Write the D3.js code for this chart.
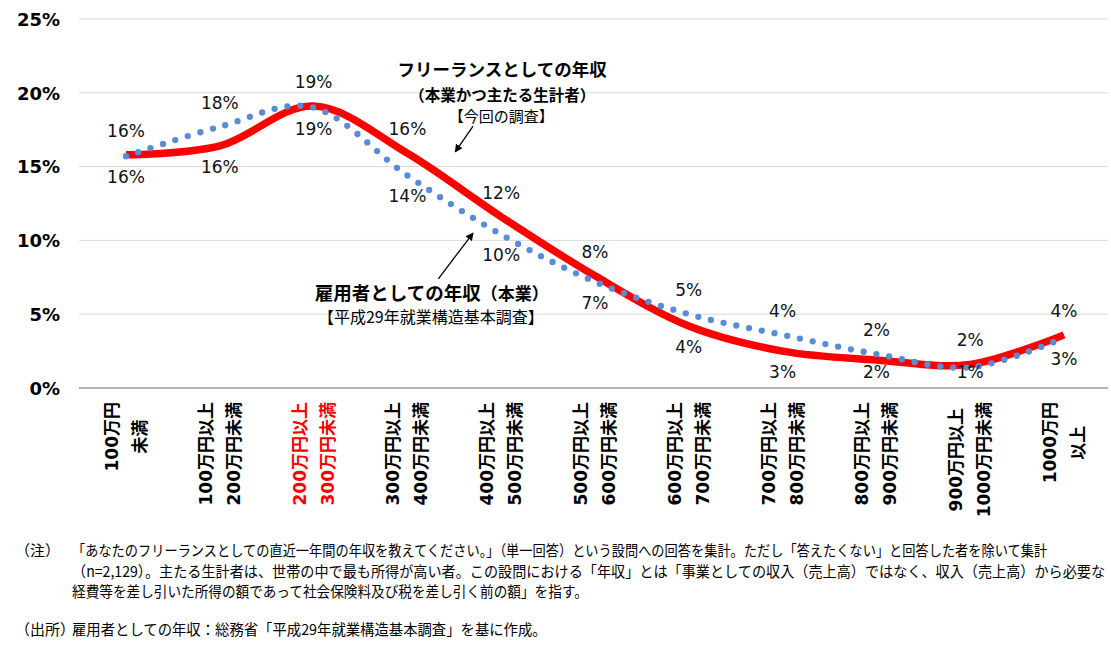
<!DOCTYPE html>
<html>
<head>
<meta charset="utf-8">
<script src="https://cdn.jsdelivr.net/npm/d3@7"></script>
<style>
  html, body { margin: 0; padding: 0; background: #fff; }
  svg { display: block; }
</style>
</head>
<body>
<svg id="chart" width="1111" height="652"></svg>
<script>
// ---------------- data ----------------
const categories = ["100万円未満","100-200万円","200-300万円","300-400万円","400-500万円","500-600万円","600-700万円","700-800万円","800-900万円","900-1000万円","1000万円以上"];
const tickLabels = [
  ["100万円","未満"],
  ["100万円以上","200万円未満"],
  ["200万円以上","300万円未満"],
  ["300万円以上","400万円未満"],
  ["400万円以上","500万円未満"],
  ["500万円以上","600万円未満"],
  ["600万円以上","700万円未満"],
  ["700万円以上","800万円未満"],
  ["800万円以上","900万円未満"],
  ["900万円以上","1000万円未満"],
  ["1000万円","以上"]
];
const highlightIndex = 2;
// 雇用者としての年収（本業） — red solid
const employeeValues = [15.8, 16.4, 19.1, 15.9, 11.6, 7.6, 4.2, 2.5, 1.9, 1.6, 3.6];
// フリーランスとしての年収 — blue dotted
const freelanceValues = [15.7, 17.7, 19.0, 14.4, 10.4, 7.2, 5.0, 3.6, 2.3, 1.4, 3.4];
const yTicks = [0, 5, 10, 15, 20, 25];

const notes = [
  {label: "（注）", lines: [
    "「あなたのフリーランスとしての直近一年間の年収を教えてください。」（単一回答）という設問への回答を集計。ただし「答えたくない」と回答した者を除いて集計",
    "（n=2,129）。主たる生計者は、世帯の中で最も所得が高い者。この設問における「年収」とは「事業としての収入（売上高）ではなく、収入（売上高）から必要な",
    "経費等を差し引いた所得の額であって社会保険料及び税を差し引く前の額」を指す。"
  ]},
  {label: "（出所）", lines: [
    "雇用者としての年収：総務省「平成29年就業構造基本調査」を基に作成。"
  ]}
];

// ---------------- layout ----------------
const svg = d3.select("#chart");
const plotLeft = 79, plotRight = 1108, plotTop = 19, plotBottom = 388;

const x = d3.scalePoint().domain(categories).range([126, 1064]);
const y = d3.scaleLinear().domain([0, 25]).range([plotBottom, plotTop]);
const step = x.step();
const xi = i => x(categories[0]) + i * step; // fractional category position for annotations

const latin = "'DejaVu Sans', 'Noto Sans CJK JP', sans-serif";
const cjk = "'Noto Sans CJK JP', sans-serif";

// gridlines
svg.append("g")
  .selectAll("line")
  .data(yTicks.filter(d => d > 0))
  .join("line")
  .attr("x1", plotLeft).attr("x2", plotRight)
  .attr("y1", d => y(d)).attr("y2", d => y(d))
  .attr("stroke", "#D9D9D9").attr("stroke-width", 1);

// y axis labels
const yAxis = d3.axisLeft(y).tickValues(yTicks).tickSize(0).tickPadding(0).tickFormat(d => d + "%");
svg.append("g")
  .attr("transform", `translate(60,0)`)
  .call(yAxis)
  .call(g => g.select(".domain").remove())
  .call(g => g.selectAll("text")
    .attr("font-family", latin).attr("font-weight", "bold")
    .attr("font-size", 18).attr("fill", "#000").attr("dy", "0.35em"));

// x axis line
svg.append("line")
  .attr("x1", plotLeft).attr("x2", plotRight)
  .attr("y1", y(0)).attr("y2", y(0))
  .attr("stroke", "#9A9A9A").attr("stroke-width", 1.5);

// x tick labels (rotated)
const xLabG = svg.append("g");
tickLabels.forEach((lines, i) => {
  const g = xLabG.append("g")
    .attr("transform", `translate(${x(categories[i])},402) rotate(-90)`);
  const texts = lines.map((t, k) => g.append("text")
    .attr("font-family", latin).attr("font-weight", "bold").attr("font-size", 17)
    .attr("fill", i === highlightIndex ? "#FF0000" : "#000")
    .attr("text-anchor", "middle").attr("dominant-baseline", "central")
    .attr("y", (k - (lines.length - 1) / 2) * 28)
    .text(t));
  const maxLen = d3.max(texts, t => t.node().getComputedTextLength());
  texts.forEach(t => t.attr("x", -maxLen / 2));
});

// lines
const curve = d3.curveCardinal.tension(0);
const lineGen = d3.line()
  .x((d, i) => x(categories[i]))
  .y(d => y(d))
  .curve(curve);

svg.append("path")
  .datum(employeeValues)
  .attr("d", lineGen)
  .attr("fill", "none")
  .attr("stroke", "#FF0000")
  .attr("stroke-width", 7.5)
  .attr("stroke-linecap", "butt")
  .attr("stroke-linejoin", "round");

svg.append("path")
  .datum(freelanceValues)
  .attr("d", lineGen)
  .attr("fill", "none")
  .attr("stroke", "#5A8CD6")
  .attr("stroke-width", 6.3)
  .attr("stroke-linecap", "round")
  .attr("stroke-dasharray", "0 13");

// data labels
const labelG = svg.append("g")
  .attr("font-family", latin).attr("font-size", 17).attr("fill", "#111")
  .attr("text-anchor", "middle");
categories.forEach((c, i) => {
  const e = employeeValues[i], f = freelanceValues[i];
  const hi = Math.max(e, f), lo = Math.min(e, f);
  labelG.append("text")
    .attr("x", x(c)).attr("y", y(hi) - 24).attr("dy", "0.35em")
    .text(Math.round(hi) + "%");
  labelG.append("text")
    .attr("x", x(c)).attr("y", Math.min(y(lo) + 21, 372)).attr("dy", "0.35em")
    .text(Math.round(lo) + "%");
});

// annotations
const ann = svg.append("g").attr("font-family", cjk).attr("fill", "#000").attr("text-anchor", "middle");
ann.append("text").attr("x", xi(4.01)).attr("y", y(21.55)).attr("dy", "0.35em")
  .attr("font-weight", "bold").attr("font-size", 17.5).text("フリーランスとしての年収");
ann.append("text").attr("x", xi(4.01)).attr("y", y(19.8)).attr("dy", "0.35em")
  .attr("font-weight", "bold").attr("font-size", 15.5).text("（本業かつ主たる生計者）");
ann.append("text").attr("x", xi(4.0)).attr("y", y(18.35)).attr("dy", "0.35em")
  .attr("font-size", 15).text("【今回の調査】");

const empTitle = ann.append("text").attr("x", xi(3.26)).attr("y", y(6.4)).attr("dy", "0.35em")
  .attr("font-weight", "bold").attr("font-size", 18.5);
empTitle.append("tspan").text("雇用者としての年収");
empTitle.append("tspan").attr("font-size", 17).text("（本業）");
ann.append("text").attr("x", xi(3.25)).attr("y", y(4.75)).attr("dy", "0.35em")
  .attr("font-size", 16).text("【平成29年就業構造基本調査】");

// arrows
const defs = svg.append("defs");
defs.append("marker").attr("id", "ah").attr("viewBox", "0 0 10 10")
  .attr("refX", 9).attr("refY", 5).attr("markerWidth", 8).attr("markerHeight", 8)
  .attr("markerUnits", "userSpaceOnUse").attr("orient", "auto")
  .append("path").attr("d", "M0,0 L10,5 L0,10 Z").attr("fill", "#000");

const arrows = [
  {from: [3.70, 17.75], to: [3.51, 16.0]},
  {from: [3.33, 7.4], to: [3.70, 10.5]}
];
svg.append("g").selectAll("line").data(arrows).join("line")
  .attr("x1", d => xi(d.from[0])).attr("y1", d => y(d.from[1]))
  .attr("x2", d => xi(d.to[0])).attr("y2", d => y(d.to[1]))
  .attr("stroke", "#000").attr("stroke-width", 1.3)
  .attr("marker-end", "url(#ah)");

// notes (horizontally condensed to mimic the narrow source font)
const noteG = svg.append("g").attr("font-family", cjk).attr("font-size", 15).attr("fill", "#000");
function condensed(txt, x0, y0, width) {
  const t = noteG.append("text").attr("dy", "0.35em").text(txt);
  const natural = t.node().getComputedTextLength();
  const s = width ? Math.min(1, width / natural) : 1;
  t.attr("transform", `translate(${x0},${y0}) scale(${s},1)`);
  return t;
}
const noteRows = [551, 572, 592];
const noteWidths = [976, 1034, 516];
condensed(notes[0].label, 15, noteRows[0], 0);
notes[0].lines.forEach((t, k) => condensed(t, 72, noteRows[k], noteWidths[k]));
condensed(notes[1].label, 15, 630, 0);
condensed(notes[1].lines[0], 72, 630, 475);
</script>
</body>
</html>
